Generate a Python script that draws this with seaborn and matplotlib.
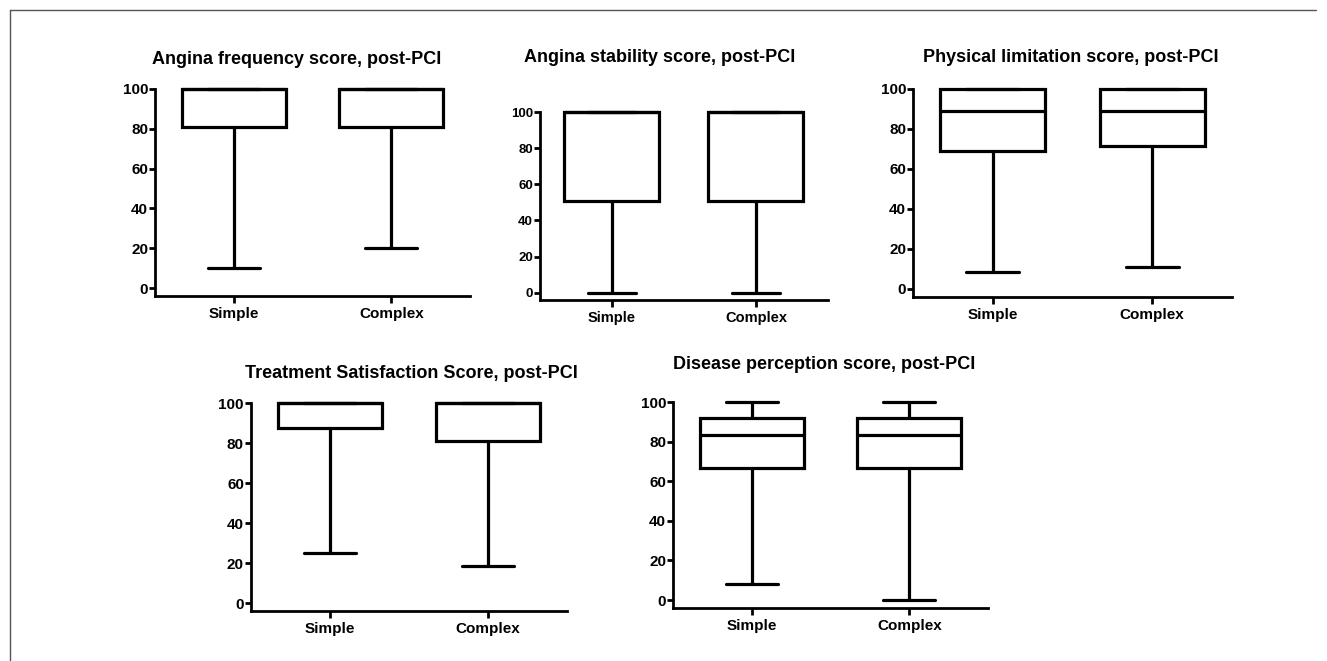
import pandas as pd
import matplotlib.pyplot as plt
import seaborn as sns
from matplotlib.lines import Line2D

groups = ["Simple", "Complex"]

# five-number summaries: min, Q1, median, Q3, max
freq_simple = [10, 81, 100, 100, 100]
freq_complex = [20, 81, 100, 100, 100]
stab_simple = [0, 51, 100, 100, 100]
stab_complex = [0, 51, 100, 100, 100]
phys_simple = [8.3, 68.8, 88.9, 100, 100]
phys_complex = [11.1, 71.4, 88.9, 100, 100]
treat_simple = [25, 87.5, 100, 100, 100]
treat_complex = [18.75, 81.25, 100, 100, 100]
dis_simple = [8.3, 66.7, 83.3, 91.7, 100]
dis_complex = [0, 66.7, 83.3, 91.7, 100]

titles = [
    "Angina frequency score, post-PCI",
    "Angina stability score, post-PCI",
    "Physical limitation score, post-PCI",
    "Treatment Satisfaction Score, post-PCI",
    "Disease perception score, post-PCI",
]
yticks = [0, 20, 40, 60, 80, 100]

sns.set_style("white")
plt.rcParams["font.family"] = ["Liberation Sans", "DejaVu Sans"]
plt.rcParams["font.weight"] = "bold"
plt.rcParams["text.color"] = "black"
plt.rcParams["xtick.color"] = "black"
plt.rcParams["ytick.color"] = "black"

panels = [
    (freq_simple, freq_complex),
    (stab_simple, stab_complex),
    (phys_simple, phys_complex),
    (treat_simple, treat_complex),
    (dis_simple, dis_complex),
]

# axes rectangles in figure fractions (left, bottom, width, height)
rects = [
    [0.1168, 0.5522, 0.2374, 0.3132],
    [0.4069, 0.5461, 0.2170, 0.2844],
    [0.6880, 0.5507, 0.2404, 0.3147],
    [0.1891, 0.0756, 0.2381, 0.3147],
    [0.5072, 0.0802, 0.2374, 0.3116],
]
# title centres in pixels (x, y from top)
title_pos = [(297, 59), (660, 57), (1071, 58), (411, 373), (824, 365)]
ytick_size = [11, 9.5, 11, 11, 11]
xtick_size = [11, 10.5, 11, 11, 11]

W, H = 1327, 661
fig = plt.figure(figsize=(W / 100, H / 100), dpi=100)

for i, (simple, complex_) in enumerate(panels):
    df = pd.DataFrame({
        "group": ["Simple"] * len(simple) + ["Complex"] * len(complex_),
        "score": simple + complex_,
    })
    ax = fig.add_axes(rects[i])
    sns.boxplot(data=df, x="group", y="score", order=groups, whis=(0, 100),
                width=0.66, color="white", linecolor="black", linewidth=2.3,
                showfliers=False, ax=ax)
    for art in ax.lines + ax.patches:
        art.set_clip_on(False)
    ax.set_xlim(-0.5, 1.5)
    ax.set_ylim(-4, 100)
    ax.set_yticks(yticks)
    ax.set_xlabel("")
    ax.set_ylabel("")
    sns.despine(ax=ax)
    for sp in ["left", "bottom"]:
        ax.spines[sp].set_linewidth(2.0)
        ax.spines[sp].set_color("black")
    ax.tick_params(axis="y", direction="out", length=4, width=2, pad=1,
                   labelsize=ytick_size[i], left=True, colors="black")
    ax.tick_params(axis="x", direction="out", length=5, width=2, pad=3,
                   labelsize=xtick_size[i], bottom=True, colors="black")
    for lab in ax.get_xticklabels() + ax.get_yticklabels():
        lab.set_fontweight("bold")
    tx, ty = title_pos[i]
    fig.text(tx / W, 1 - ty / H, titles[i], ha="center", va="center",
             fontsize=13, fontweight="bold", color="black")

# thin frame lines at top and left
fig.add_artist(Line2D([10 / W, 1316 / W], [1 - 10 / H, 1 - 10 / H],
                      color="#555555", linewidth=1.0))
fig.add_artist(Line2D([10 / W, 10 / W], [0, 1 - 10 / H],
                      color="#555555", linewidth=1.0))

plt.savefig("out.png", dpi=100)
plt.close()
